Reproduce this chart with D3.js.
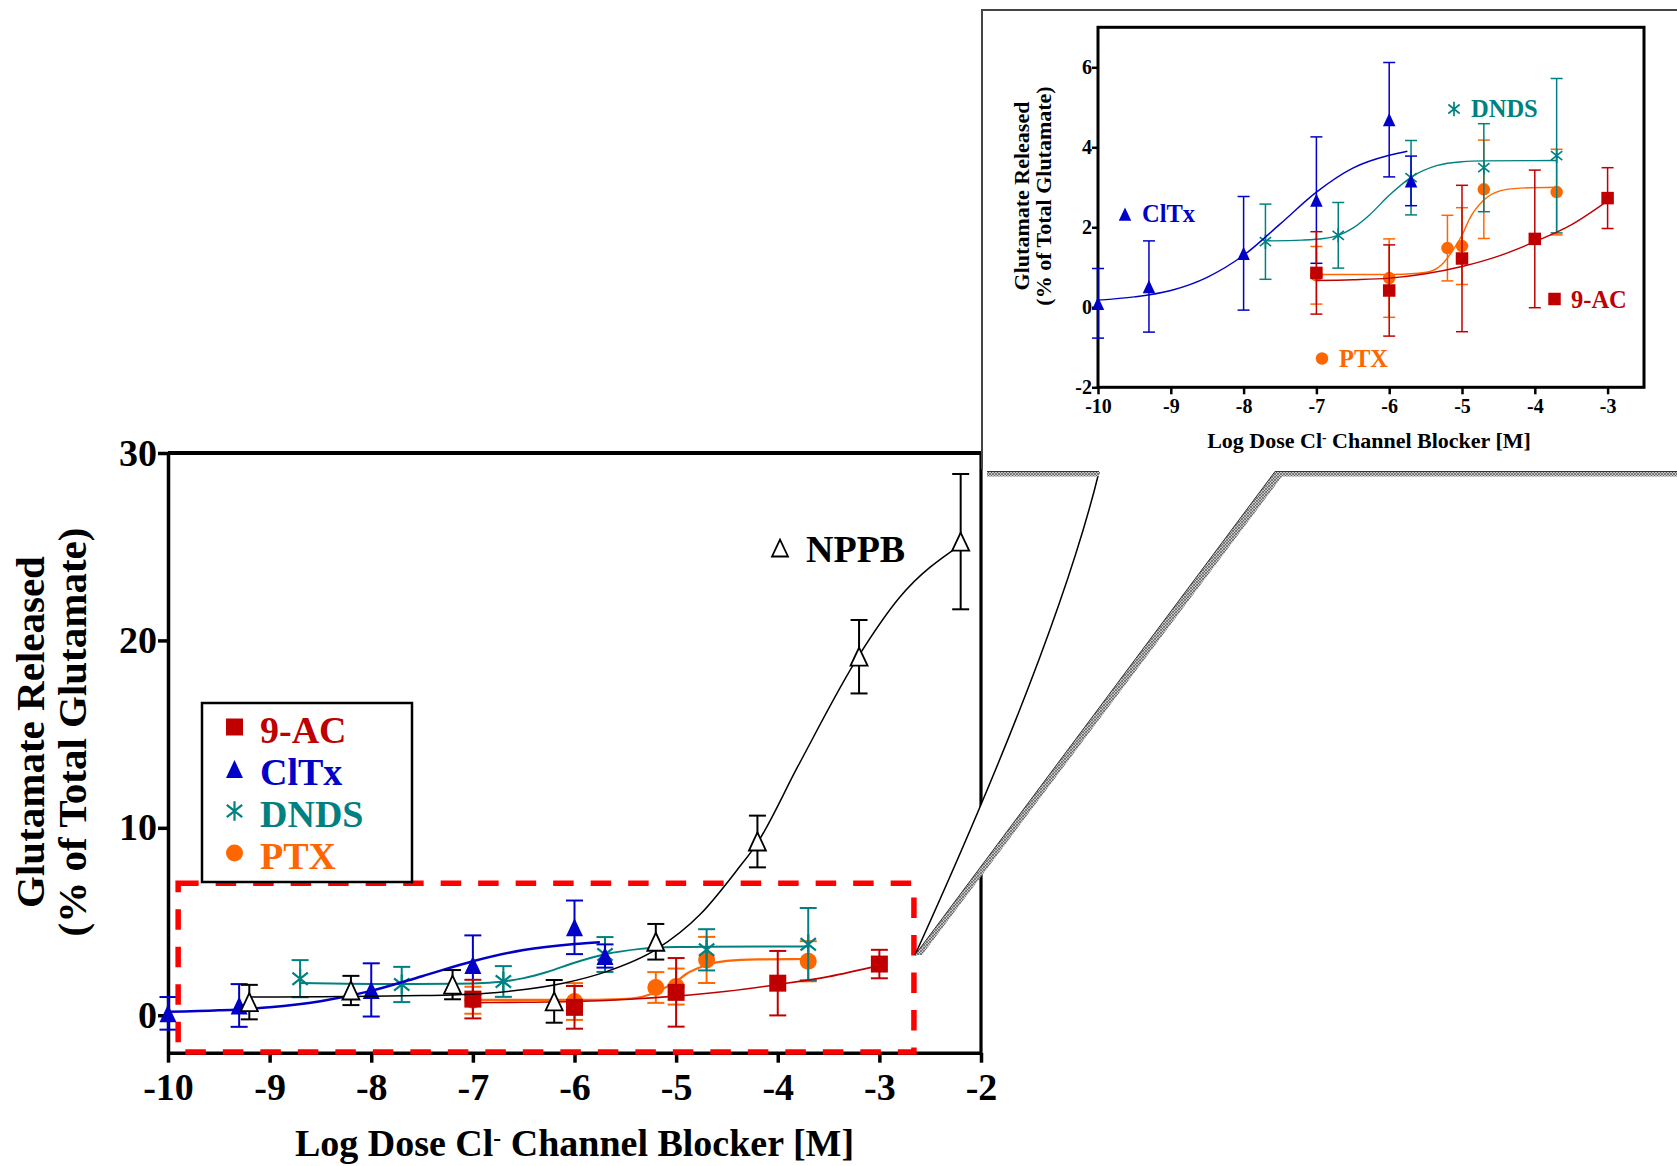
<!DOCTYPE html>
<html><head><meta charset="utf-8">
<script src="https://cdn.jsdelivr.net/npm/d3@7"></script>
<style>
html,body{margin:0;padding:0;background:#fff;}
svg{display:block;}
text{font-family:"Liberation Serif","Times New Roman",serif;font-weight:bold;}
</style></head><body>
<svg id="chart" width="1677" height="1166"></svg>
<script>
// ---------------- DATA ----------------
const xTicksMain = [-10,-9,-8,-7,-6,-5,-4,-3,-2];
const yTicksMain = [0,10,20,30];
const xTicksInset = [-10,-9,-8,-7,-6,-5,-4,-3];
const yTicksInset = [-2,0,2,4,6];

const ac9X   = [-7,-6,-5,-4,-3];
const ac9Y   = [0.86,0.42,1.22,1.71,2.73];
const ac9Err = [1.03,1.14,1.83,1.72,0.76];
const ac9FitX = [-7,-6.5,-6,-5.5,-5,-4.5,-4,-3.5,-3];
const ac9FitY = [0.67,0.69,0.73,0.84,1.02,1.28,1.64,2.06,2.66];

const cltxX   = [-10,-9.3,-8,-7,-6,-5.7];
const cltxY   = [0.1,0.52,1.35,2.68,4.69,3.16];
const cltxErr = [0.87,1.14,1.42,1.58,1.43,0.62];
const cltxFitX = [-10,-9.5,-9,-8.5,-8,-7.5,-7,-6.5,-6,-5.75];
const cltxFitY = [0.18,0.26,0.42,0.75,1.3,2.08,2.88,3.48,3.8,3.9];

const dndsX   = [-8.7,-7.7,-6.7,-5.7,-4.7,-3.7];
const dndsY   = [1.95,1.64,1.80,3.24,3.49,3.79];
const dndsErr = [0.99,0.94,0.82,0.93,1.10,1.93];
const dndsFitX = [-8.7,-7.7,-7.2,-6.9,-6.7,-6.5,-6.27,-6.0,-5.7,-5.35,-5.0,-4.7,-3.7];
const dndsFitY = [1.72,1.66,1.68,1.72,1.80,1.98,2.31,2.8,3.25,3.54,3.64,3.66,3.67];
const dndsInsetFrom = -7.7;

const ptxX   = [-7,-6,-5.2,-5,-4.7,-3.7];
const ptxY   = [0.80,0.73,1.48,1.53,2.95,2.88];
const ptxErr = [0.72,0.98,0.82,0.96,1.23,1.07];
const ptxFitX = [-7,-6,-5.6,-5.4,-5.25,-5.1,-5.0,-4.9,-4.7,-4.5,-4.2,-3.7];
const ptxFitY = [0.82,0.82,0.85,0.92,1.12,1.5,1.8,2.2,2.68,2.9,2.98,3.0];

const nppbX   = [-9.2,-8.2,-7.2,-6.2,-5.2,-4.2,-3.2,-2.2];
const nppbY   = [0.70,1.32,1.63,0.74,3.92,9.27,19.13,25.27];
const nppbErr = [0.92,0.78,0.78,1.14,0.95,1.38,1.96,3.61];
const nppbFitX = [-9.2,-8.5,-8,-7.5,-7.2,-6.6,-6.1,-5.7,-5.2,-4.76,-4.4,-4.2,-3.8,-3.2,-2.8,-2.2];
const nppbFitY = [0.97,0.99,1.01,1.05,1.08,1.3,1.72,2.3,3.5,5.4,7.75,9.2,13.3,19.2,22.3,25.1];

const legendNames = ["9-AC","ClTx","DNDS","PTX"];

// ---------------- SETUP ----------------
const svg = d3.select("#chart");
const defs = svg.append("defs");
const pat = defs.append("pattern").attr("id","hatch").attr("width",3).attr("height",3)
  .attr("patternUnits","userSpaceOnUse");
pat.append("rect").attr("width",3).attr("height",3).attr("fill","#c6c6c6");
pat.append("path").attr("d","M0,0L3,3M3,0L0,3").attr("stroke","#4a4a4a").attr("stroke-width",0.6);

const COLORS = {"9-AC":"#C00000","ClTx":"#0000C8","DNDS":"#008080","PTX":"#FF6600","NPPB":"#000000"};
const SHAPES = {"9-AC":"square","ClTx":"triangle","DNDS":"star","PTX":"circle","NPPB":"triangle"};

const series = [
  {name:"PTX",  x:ptxX,  y:ptxY,  err:ptxErr,  fx:ptxFitX,  fy:ptxFitY},
  {name:"DNDS", x:dndsX, y:dndsY, err:dndsErr, fx:dndsFitX, fy:dndsFitY, insetFrom:dndsInsetFrom},
  {name:"ClTx", x:cltxX, y:cltxY, err:cltxErr, fx:cltxFitX, fy:cltxFitY},
  {name:"9-AC", x:ac9X,  y:ac9Y,  err:ac9Err,  fx:ac9FitX,  fy:ac9FitY},
  {name:"NPPB", x:nppbX, y:nppbY, err:nppbErr, fx:nppbFitX, fy:nppbFitY, open:true, mainOnly:true}
];

function markerPath(shape, s) {
  if (shape === "square") return `M${-s/2},${-s/2}h${s}v${s}h${-s}Z`;
  if (shape === "triangle") { const w = s, h = s*1.06; return `M0,${-h/2}L${w/2},${h/2}L${-w/2},${h/2}Z`; }
  if (shape === "circle") { const r = s/2; return `M${r},0A${r},${r} 0 1,1 ${-r},0A${r},${r} 0 1,1 ${r},0Z`; }
  const r = s*0.58, a = r*0.78, b = r*0.62;
  return `M0,${-r}L0,${r}M${-a},${-b}L${a},${b}M${-a},${b}L${a},${-b}`;
}
function drawMarker(g, shape, color, s, X, Y, open) {
  const p = g.append("path").attr("transform",`translate(${X},${Y})`).attr("d", markerPath(shape, s));
  if (shape === "star") p.attr("fill","none").attr("stroke",color).attr("stroke-width", s > 14 ? 2.2 : 1.7);
  else if (open) p.attr("fill","#fff").attr("stroke",color).attr("stroke-width",1.8);
  else p.attr("fill",color).attr("stroke","none");
}

function drawSeries(g, sx, sy, cfg) {
  series.forEach(s => {
    if (cfg.inset && s.mainOnly) return;
    const from = cfg.inset && s.insetFrom !== undefined ? s.insetFrom : -Infinity;
    const color = COLORS[s.name];
    const pts = s.x.map((d,i) => ({x:d, y:s.y[i], e:s.err[i]})).filter(p => p.x >= from);
    const fit = s.fx.map((d,i) => [d, s.fy[i]]).filter(p => p[0] >= from);
    const eb = g.append("g").attr("stroke", color).attr("stroke-width", cfg.ebw).attr("fill","none");
    pts.forEach(p => {
      const X = sx(p.x), Yt = sy(p.y + p.e), Yb = sy(p.y - p.e);
      eb.append("line").attr("x1",X).attr("x2",X).attr("y1",Yt).attr("y2",Yb);
      eb.append("line").attr("x1",X-cfg.cap).attr("x2",X+cfg.cap).attr("y1",Yt).attr("y2",Yt);
      eb.append("line").attr("x1",X-cfg.cap).attr("x2",X+cfg.cap).attr("y1",Yb).attr("y2",Yb);
    });
    g.append("path").datum(fit)
      .attr("d", d3.line().x(d => sx(d[0])).y(d => sy(d[1])).curve(d3.curveMonotoneX))
      .attr("fill","none").attr("stroke",color).attr("stroke-width", cfg.lw[s.name]);
    pts.forEach(p => drawMarker(g, SHAPES[s.name], color, cfg.ms, sx(p.x), sy(p.y), s.open));
  });
}

function styleAxis(g, fs, sw) {
  g.selectAll("path.domain").attr("stroke","#000").attr("stroke-width",sw);
  g.selectAll(".tick line").attr("stroke","#000").attr("stroke-width",sw);
  g.selectAll(".tick text").attr("fill","#000").attr("font-size",fs)
    .attr("font-family",'"Liberation Serif","Times New Roman",serif').attr("font-weight","bold");
}

// ---------------- MAIN CHART ----------------
const mx = d3.scaleLinear().domain([-10,-2]).range([168,981]);
const my = d3.scaleLinear().domain([-2,30]).range([1052.7,453]);
const main = svg.append("g");

main.append("line").attr("x1",mx(-10)).attr("x2",mx(-2)).attr("y1",my(30)).attr("y2",my(30))
  .attr("stroke","#000").attr("stroke-width",4);
main.append("line").attr("x1",mx(-2)).attr("x2",mx(-2)).attr("y1",my(30)).attr("y2",my(-2))
  .attr("stroke","#000").attr("stroke-width",3.2);

const mxa = main.append("g").attr("transform",`translate(0,${my(-2)})`)
  .call(d3.axisBottom(mx).tickValues(xTicksMain).tickFormat(d => String(d)).tickSize(10).tickSizeOuter(0).tickPadding(10));
styleAxis(mxa, 38, 3.5);
const mya = main.append("g").attr("transform",`translate(${mx(-10)},0)`)
  .call(d3.axisLeft(my).tickValues(yTicksMain).tickFormat(d => String(d)).tickSize(10).tickSizeOuter(0).tickPadding(1));
styleAxis(mya, 38, 3.5);

drawSeries(main.append("g"), mx, my, {
  inset:false, ebw:2, cap:8.5, ms:17,
  lw:{"PTX":2.2,"DNDS":2,"ClTx":2.5,"9-AC":1.6,"NPPB":1.5}
});

main.append("rect")
  .attr("x", mx(-9.9)).attr("y", my(7.04))
  .attr("width", mx(-2.66) - mx(-9.9)).attr("height", my(-1.96) - my(7.04))
  .attr("fill","none").attr("stroke","#FF0000").attr("stroke-width",5.5).attr("stroke-dasharray","20.5,17");

main.append("text").attr("transform","translate(44,732) rotate(-90)")
  .attr("text-anchor","middle").attr("font-size",41).text("Glutamate Released");
main.append("text").attr("transform","translate(86,732) rotate(-90)")
  .attr("text-anchor","middle").attr("font-size",41).text("(% of Total Glutamate)");
const xt = main.append("text").attr("x",574.5).attr("y",1156).attr("text-anchor","middle").attr("font-size",38);
xt.append("tspan").text("Log Dose Cl");
xt.append("tspan").attr("dy","-0.42em").attr("font-size","0.62em").text("-");
xt.append("tspan").attr("dy","0.26em").text(" Channel Blocker [M]");

drawMarker(main, "triangle", "#000", 16, 780, 548, true);
main.append("text").attr("x",806).attr("y",562).attr("font-size",38).attr("fill","#000").text("NPPB");

const lg = main.append("g");
lg.append("rect").attr("x",202).attr("y",703).attr("width",210).attr("height",179)
  .attr("fill","#fff").attr("stroke","#000").attr("stroke-width",2.5);
legendNames.forEach((n,i) => {
  const cy = 727 + 42*i;
  drawMarker(lg, SHAPES[n], COLORS[n], 17, 234.5, cy, false);
  lg.append("text").attr("x",260).attr("y",cy+16).attr("font-size",38).attr("fill",COLORS[n]).text(n);
});

// ---------------- CONNECTOR ----------------
const con = svg.append("g");
con.append("path").attr("d","M1099,472 Q1058,640 915,955 L1276,472 Z").attr("fill","#fff").attr("stroke","none");
con.append("path").attr("d","M1099,472 Q1058,640 915,955").attr("fill","none").attr("stroke","#000").attr("stroke-width",1.5);
con.append("rect").attr("x",987).attr("y",471.5).attr("width",112).attr("height",5).attr("fill","url(#hatch)");
con.append("line").attr("x1",987).attr("x2",1099).attr("y1",471.5).attr("y2",471.5).attr("stroke","#333").attr("stroke-width",1);
con.append("path").attr("d","M1677,471.5 L1275,471.5 L915,955 L922,955 L1282,476.5 L1677,476.5 Z").attr("fill","url(#hatch)");
con.append("path").attr("d","M1677,471.5 L1275,471.5 L915,955").attr("fill","none").attr("stroke","#333").attr("stroke-width",1);
con.append("path").attr("d","M1677,10 L982,10 L982,469").attr("fill","none").attr("stroke","#444").attr("stroke-width",2);

// ---------------- INSET ----------------
const ix = d3.scaleLinear().domain([-10,-2.5]).range([1098,1644]);
const iy = d3.scaleLinear().domain([-2,7]).range([387.3,27.3]);
const ins = svg.append("g");
ins.append("rect").attr("x",ix(-10)).attr("y",iy(7)).attr("width",ix(-2.5)-ix(-10)).attr("height",iy(-2)-iy(7))
  .attr("fill","none").attr("stroke","#000").attr("stroke-width",3);
const ixa = ins.append("g").attr("transform",`translate(0,${iy(-2)})`)
  .call(d3.axisBottom(ix).tickValues(xTicksInset).tickFormat(d => String(d)).tickSize(7).tickSizeOuter(0).tickPadding(5));
styleAxis(ixa, 20, 2.5);
const iya = ins.append("g").attr("transform",`translate(${ix(-10)},0)`)
  .call(d3.axisLeft(iy).tickValues(yTicksInset).tickFormat(d => String(d)).tickSize(6).tickSizeOuter(0).tickPadding(0));
styleAxis(iya, 20, 2.5);
ixa.select("path.domain").remove(); iya.select("path.domain").remove();

drawSeries(ins.append("g"), ix, iy, {
  inset:true, ebw:1.5, cap:6, ms:12.5,
  lw:{"PTX":1.4,"DNDS":1.4,"ClTx":1.4,"9-AC":1.4}
});

ins.append("text").attr("transform","translate(1029,196) rotate(-90)").attr("text-anchor","middle")
  .attr("font-size",22).text("Glutamate Released");
ins.append("text").attr("transform","translate(1051,196) rotate(-90)").attr("text-anchor","middle")
  .attr("font-size",22).text("(% of Total Glutamate)");
const ixt = ins.append("text").attr("x",1369).attr("y",448).attr("text-anchor","middle").attr("font-size",22);
ixt.append("tspan").text("Log Dose Cl");
ixt.append("tspan").attr("dy","-0.42em").attr("font-size","0.62em").text("-");
ixt.append("tspan").attr("dy","0.26em").text(" Channel Blocker [M]");

const insetLabels = [
  {n:"ClTx", mx:1125, my:214, tx:1142, ty:222},
  {n:"DNDS", mx:1454, my:109, tx:1471, ty:117},
  {n:"9-AC", mx:1554.5, my:299, tx:1571, ty:307.5},
  {n:"PTX",  mx:1322, my:358.5, tx:1339, ty:367}
];
insetLabels.forEach(l => {
  drawMarker(ins, SHAPES[l.n], COLORS[l.n], 12.5, l.mx, l.my, false);
  ins.append("text").attr("x",l.tx).attr("y",l.ty).attr("font-size",24.5).attr("fill",COLORS[l.n]).text(l.n);
});
</script>
</body></html>
